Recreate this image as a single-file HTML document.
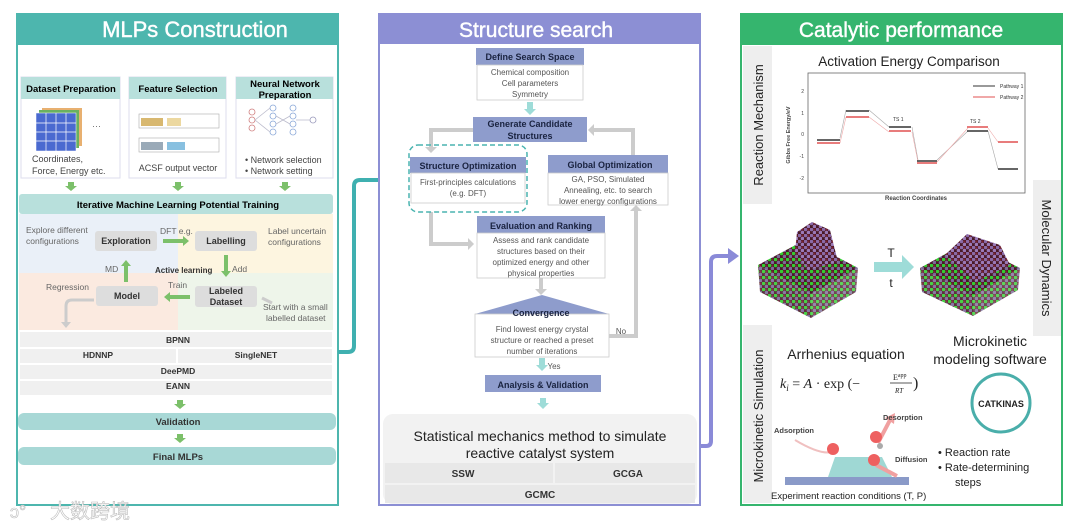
<!DOCTYPE html>
<html><head><meta charset="utf-8"><style>
html,body{margin:0;padding:0;background:#fff;}
svg{display:block;font-family:"Liberation Sans","Noto Sans CJK SC",sans-serif;}
.b{font-weight:bold;}
</style></head><body>
<svg width="1080" height="529" viewBox="0 0 1080 529" xmlns="http://www.w3.org/2000/svg">
<defs>
<pattern id="atoms" width="6" height="6" patternUnits="userSpaceOnUse">
<rect width="6" height="6" fill="#4a1a28"/>
<circle cx="1.5" cy="1.5" r="1.8" fill="#33cc33"/>
<circle cx="4.5" cy="4.5" r="1.8" fill="#7a6a98"/>
<circle cx="4.5" cy="1.5" r="1.1" fill="#7a2030"/>
</pattern>
<pattern id="atoms2" width="6" height="6" patternUnits="userSpaceOnUse">
<rect width="6" height="6" fill="#4a1a28"/>
<circle cx="1.5" cy="1.5" r="1.8" fill="#8a6aa8"/>
<circle cx="4.5" cy="4.5" r="1.8" fill="#9a7ab8"/>
<circle cx="4.5" cy="1.5" r="1.1" fill="#7a2030"/>
</pattern>
</defs>

<!-- LEFT PANEL -->
<rect x="17" y="14" width="321" height="491" fill="#fff" stroke="#4db6ae" stroke-width="2"/>
<rect x="17" y="14" width="321" height="31" fill="#4db6ae"/>
<text x="195" y="37" font-size="22" fill="#fff" text-anchor="middle" stroke="#fff" stroke-width="0.4">MLPs Construction</text>

<g font-size="9">
<rect x="21" y="77" width="99" height="101" fill="#fff" stroke="#dde" />
<rect x="21" y="77" width="99" height="22" fill="#b8e0dc"/>
<text x="71" y="92" class="b" text-anchor="middle" font-size="9.5">Dataset Preparation</text>
<g transform="translate(36,110)">
<rect x="6" y="-2" width="40" height="38" fill="#e8b070"/><rect x="3" y="0" width="40" height="38" fill="#6ab060"/><rect x="0" y="3" width="40" height="38" fill="#4a6ad0" stroke="#fff" stroke-width="0.5"/>
<path d="M10,3V41M20,3V41M30,3V41M0,13H40M0,22H40M0,31H40" stroke="#fff" stroke-width="0.7"/>
</g>
<text x="92" y="129" fill="#666">···</text>
<text x="32" y="162" fill="#444">Coordinates,</text>
<text x="32" y="174" fill="#444">Force, Energy etc.</text>

<rect x="129" y="77" width="97" height="101" fill="#fff" stroke="#dde"/>
<rect x="129" y="77" width="97" height="22" fill="#b8e0dc"/>
<text x="178" y="92" class="b" text-anchor="middle" font-size="9.5">Feature Selection</text>
<rect x="139" y="114" width="80" height="14" fill="none" stroke="#aaa" stroke-width="0.6"/>
<rect x="141" y="118" width="22" height="8" fill="#d8b870"/><rect x="167" y="118" width="14" height="8" fill="#ecd8a0"/>
<rect x="139" y="138" width="80" height="14" fill="none" stroke="#aaa" stroke-width="0.6"/>
<rect x="141" y="142" width="22" height="8" fill="#9aaab8"/><rect x="167" y="142" width="18" height="8" fill="#88c0e0"/>
<text x="178" y="171" text-anchor="middle" fill="#444">ACSF output vector</text>

<rect x="236" y="77" width="97" height="101" fill="#fff" stroke="#dde"/>
<rect x="236" y="77" width="97" height="22" fill="#b8e0dc"/>
<text x="285" y="87" class="b" text-anchor="middle" font-size="9.5">Neural Network</text>
<text x="285" y="98" class="b" text-anchor="middle" font-size="9.5">Preparation</text>
<g fill="none" stroke-width="0.8">
<circle cx="252" cy="112" r="3" stroke="#d08080"/><circle cx="252" cy="120" r="3" stroke="#d08080"/><circle cx="252" cy="128" r="3" stroke="#d08080"/>
<circle cx="273" cy="108" r="3" stroke="#8aa8d8"/><circle cx="273" cy="116" r="3" stroke="#8aa8d8"/><circle cx="273" cy="124" r="3" stroke="#8aa8d8"/><circle cx="273" cy="132" r="3" stroke="#8aa8d8"/>
<circle cx="293" cy="108" r="3" stroke="#8aa8d8"/><circle cx="293" cy="116" r="3" stroke="#8aa8d8"/><circle cx="293" cy="124" r="3" stroke="#8aa8d8"/><circle cx="293" cy="132" r="3" stroke="#8aa8d8"/>
<circle cx="313" cy="120" r="3" stroke="#99b"/>
<path d="M255,120L270,108M255,120L270,132M276,116L290,124M276,124L290,116M296,120L310,120" stroke="#bbc"/>
</g>
<text x="245" y="163" fill="#444">•  Network selection</text>
<text x="245" y="174" fill="#444">•  Network setting</text>
</g>
<g fill="#7cc06a">
<path d="M68,182h6v4h3l-6,5l-6,-5h3z"/><path d="M175,182h6v4h3l-6,5l-6,-5h3z"/><path d="M282,182h6v4h3l-6,5l-6,-5h3z"/>
<path d="M177,400h6v4h3l-6,5l-6,-5h3z"/><path d="M177,434h6v4h3l-6,5l-6,-5h3z"/>
</g>

<rect x="19" y="194" width="314" height="20" fill="#b8e0dc" rx="3"/>
<text x="178" y="208" class="b" text-anchor="middle" font-size="9.5">Iterative Machine Learning Potential Training</text>
<rect x="19" y="214" width="159" height="59" fill="#eaf0f8"/>
<rect x="178" y="214" width="155" height="59" fill="#fdf5e0"/>
<rect x="19" y="273" width="159" height="57" fill="#fbeae0"/>
<rect x="178" y="273" width="155" height="57" fill="#eef5ea"/>
<g font-size="8.5" fill="#666">
<text x="26" y="233">Explore different</text><text x="26" y="244">configurations</text>
<text x="268" y="234">Label uncertain</text><text x="268" y="245">configurations</text>
<text x="160" y="234">DFT e.g.</text>
<text x="105" y="272">MD</text>
<text x="232" y="272">Add</text>
<text x="46" y="290">Regression</text>
<text x="168" y="288">Train</text>
<text x="263" y="310">Start with a small</text><text x="266" y="321">labelled dataset</text>
</g>
<text x="155" y="273" font-size="8" class="b" fill="#333">Active learning</text>
<g fill="#ddd"><rect x="95" y="231" width="62" height="20" rx="3"/><rect x="195" y="231" width="62" height="20" rx="3"/><rect x="96" y="286" width="62" height="20" rx="3"/><rect x="195" y="286" width="62" height="21" rx="3"/></g>
<g font-size="9" class="b" text-anchor="middle" fill="#333">
<text x="126" y="244">Exploration</text><text x="226" y="244">Labelling</text><text x="127" y="299">Model</text>
<text x="226" y="294">Labeled</text><text x="226" y="305">Dataset</text></g>
<g fill="#7cc06a"><path d="M163,239h20v-3l6,5l-6,5v-3h-20z"/><path d="M124,282v-16h-3l5,-6l5,6h-3v16z"/><path d="M224,255v16h-3l5,6l5,-6h-3v-16z"/><path d="M190,295h-20v-3l-6,5l6,5v-3h20z"/></g>
<path d="M94,300H72q-6,0 -6,6V324" fill="none" stroke="#ccc" stroke-width="3"/><path d="M61,322h10l-5,6z" fill="#ccc"/>
<path d="M262,298l10,5" stroke="#ccc" stroke-width="3"/>

<rect x="19" y="330" width="314" height="68" fill="#fff"/>
<g fill="#f0f0f0"><rect x="20" y="332" width="312" height="15"/><rect x="20" y="349" width="156" height="14"/><rect x="178" y="349" width="154" height="14"/><rect x="20" y="365" width="312" height="14"/><rect x="20" y="381" width="312" height="14"/></g>
<g font-size="8.5" class="b" text-anchor="middle" fill="#333">
<text x="178" y="343">BPNN</text><text x="98" y="358">HDNNP</text><text x="256" y="358">SingleNET</text><text x="178" y="374">DeePMD</text><text x="178" y="389">EANN</text></g>
<rect x="18" y="413" width="318" height="17" rx="6" fill="#a8d8d6"/>
<text x="178" y="425" font-size="9.5" class="b" text-anchor="middle" fill="#333">Validation</text>
<rect x="18" y="447" width="318" height="18" rx="6" fill="#a8d8d6"/>
<text x="178" y="460" font-size="9.5" class="b" text-anchor="middle" fill="#333">Final MLPs</text>

<!-- connectors -->
<path d="M338,352H348q6,0 6,-6V186q0,-6 6,-6H394" fill="none" stroke="#3fb0b0" stroke-width="4"/>
<path d="M392,171l14,9l-14,9z" fill="#3fb0b0"/>
<path d="M700,446H706q5,0 5,-5V262q0,-6 6,-6H730" fill="none" stroke="#8a8ad8" stroke-width="4"/>
<path d="M728,248l11,8l-11,8z" fill="#8a8ad8"/>

<!-- MIDDLE PANEL -->
<rect x="379" y="14" width="321" height="491" fill="#fff" stroke="#8c8fd4" stroke-width="2"/>
<rect x="379" y="14" width="321" height="30" fill="#8c8fd4"/>
<text x="536" y="37" font-size="21" fill="#fff" text-anchor="middle" stroke="#fff" stroke-width="0.4">Structure search</text>
<g fill="none" stroke="#ccc" stroke-width="4">
<path d="M473,130H431V148"/><path d="M633,155V130H592"/><path d="M431,212V244H470"/><path d="M609,336H636V210"/><path d="M541,278V290"/></g>
<g fill="#ccc"><path d="M425,147h12l-6,6z"/><path d="M594,124v12l-6,-6z"/><path d="M468,238v12l6,-6z"/><path d="M630,211h12l-6,-6z"/><path d="M535,289h12l-6,6z"/></g>
<g fill="#9edcd8"><path d="M527,102h6v7h3l-6,6l-6,-6h3z"/><path d="M539,358h6v7h3l-6,6l-6,-6h3z"/><path d="M540,398h6v5h3l-6,6l-6,-6h3z"/></g>
<g fill="#8e9ccc">
<rect x="476" y="48" width="108" height="17"/>
<rect x="473" y="117" width="114" height="25"/>
<rect x="410" y="157" width="116" height="16"/>
<rect x="548" y="155" width="120" height="18"/>
<rect x="477" y="216" width="128" height="17"/>
<path d="M475,314L542,295L609,314z"/>
<rect x="485" y="375" width="116" height="17"/>
</g>
<g fill="#fff" stroke="#ccc" stroke-width="0.8">
<rect x="477" y="65" width="106" height="35"/><rect x="411" y="173" width="114" height="30"/><rect x="548" y="173" width="120" height="32"/><rect x="477" y="233" width="128" height="45"/><rect x="475" y="314" width="134" height="43"/></g>
<rect x="409" y="145" width="118" height="67" rx="9" fill="none" stroke="#4ab4b0" stroke-width="1.5" stroke-dasharray="5,3"/>
<g font-size="9" class="b" text-anchor="middle" fill="#1a2340">
<text x="530" y="60">Define Search Space</text>
<text x="530" y="127">Generate Candidate</text><text x="530" y="139">Structures</text>
<text x="468" y="169">Structure Optimization</text>
<text x="610" y="168">Global Optimization</text>
<text x="541" y="229">Evaluation and Ranking</text>
<text x="541" y="316">Convergence</text>
<text x="543" y="388">Analysis &amp; Validation</text></g>
<g font-size="8" text-anchor="middle" fill="#555">
<text x="530" y="75">Chemical composition</text><text x="530" y="86">Cell parameters</text><text x="530" y="97">Symmetry</text>
<text x="468" y="185">First-principles calculations</text><text x="468" y="196">(e.g. DFT)</text>
<text x="608" y="182">GA, PSO, Simulated</text><text x="608" y="193">Annealing, etc. to search</text><text x="608" y="204">lower energy configurations</text>
<text x="541" y="243">Assess and rank candidate</text><text x="541" y="254">structures based on their</text><text x="541" y="265">optimized energy and other</text><text x="541" y="276">physical properties</text>
<text x="542" y="332">Find lowest energy crystal</text><text x="542" y="343">structure or reached a preset</text><text x="542" y="354">number of iterations</text>
<text x="621" y="334">No</text><text x="554" y="369">Yes</text></g>
<rect x="383" y="414" width="314" height="90" rx="10" fill="#f2f2f2"/>
<rect x="385" y="463" width="168" height="20" fill="#e8e8e8"/><rect x="555" y="463" width="140" height="20" fill="#e8e8e8"/><rect x="385" y="485" width="310" height="18" fill="#e8e8e8"/>
<text x="540" y="441" font-size="14" text-anchor="middle" fill="#222">Statistical mechanics method to simulate</text>
<text x="540" y="458" font-size="14" text-anchor="middle" fill="#222">reactive catalyst system</text>
<g font-size="10" class="b" text-anchor="middle" fill="#333"><text x="463" y="477">SSW</text><text x="628" y="477">GCGA</text><text x="540" y="498">GCMC</text></g>

<!-- RIGHT PANEL -->
<rect x="741" y="14" width="321" height="491" fill="#fff" stroke="#35b56e" stroke-width="2"/>
<rect x="741" y="14" width="321" height="31" fill="#35b56e"/>
<text x="901" y="37" font-size="21" fill="#fff" text-anchor="middle" stroke="#fff" stroke-width="0.4">Catalytic performance</text>
<rect x="743" y="46" width="29" height="158" fill="#eee"/>
<text transform="translate(763,125) rotate(-90)" font-size="13" text-anchor="middle" fill="#222">Reaction Mechanism</text>
<rect x="1033" y="180" width="28" height="156" fill="#eee"/>
<text transform="translate(1042,258) rotate(90)" font-size="13" text-anchor="middle" fill="#222">Molecular Dynamics</text>
<rect x="743" y="325" width="29" height="178" fill="#eee"/>
<text transform="translate(763,416) rotate(-90)" font-size="13" text-anchor="middle" fill="#222">Microkinetic Simulation</text>

<text x="909" y="66" font-size="13.5" text-anchor="middle" fill="#222">Activation Energy Comparison</text>
<rect x="808" y="73" width="217" height="120" fill="#fff" stroke="#666" stroke-width="0.8"/>
<g font-size="5" fill="#444" text-anchor="end"><text x="804" y="93">2</text><text x="804" y="115">1</text><text x="804" y="136">0</text><text x="804" y="158">-1</text><text x="804" y="180">-2</text></g>
<text transform="translate(790,135) rotate(-90)" font-size="5.5" class="b" text-anchor="middle" fill="#444">Gibbs Free Energy/eV</text>
<text x="916" y="200" font-size="6" class="b" text-anchor="middle" fill="#444">Reaction Coordinates</text>
<g fill="none" stroke-width="0.6" stroke="#aaa">
<path d="M840,138L846,110M869,110L889,127M912,127L918,160M937,160L968,131M988,131L998,169"/>
<path d="M840,143L846,117M869,117L889,132M912,132L918,162M937,162L968,128M988,128L998,142" stroke="#eaa"/></g>
<g stroke-width="1.5">
<path d="M817,140H840M846,111H869M889,127H911M917,161H937M967,131H988M998,169H1018" stroke="#333"/>
<path d="M817,143H840M846,117H869M889,131H911M917,163H937M967,127H988M998,142H1018" stroke="#e05050"/></g>
<g font-size="5" fill="#333"><text x="893" y="121">TS 1</text><text x="970" y="123">TS 2</text>
<text x="1000" y="88">Pathway 1</text><text x="1000" y="99">Pathway 2</text></g>
<path d="M973,86h22" stroke="#333"/><path d="M973,97h22" stroke="#e05050"/>

<!-- cubes (isometric) -->
<path d="M758,265L805,240L858,268L811,294Z" fill="url(#atoms)"/>
<path d="M758,265L811,294L811,318L760,292Z" fill="url(#atoms)" opacity="0.9"/>
<path d="M811,294L858,268L856,292L811,318Z" fill="url(#atoms)" opacity="0.8"/>
<path d="M797,232L812,222L830,230L838,262L808,270L795,252Z" fill="url(#atoms2)"/>
<path d="M920,268L967,242L1020,268L973,296Z" fill="url(#atoms)"/>
<path d="M920,268L973,296L973,316L922,292Z" fill="url(#atoms)" opacity="0.9"/>
<path d="M973,296L1020,268L1018,290L973,316Z" fill="url(#atoms)" opacity="0.8"/>
<path d="M945,255L967,234L1000,245L1010,265L975,282Z" fill="url(#atoms2)"/>
<path d="M874,262h28v-7l12,12l-12,12v-7h-28z" fill="#9edcd8"/>
<text x="891" y="257" font-size="12" text-anchor="middle" fill="#222">T</text>
<text x="891" y="287" font-size="12" text-anchor="middle" fill="#222">t</text>

<text x="846" y="359" font-size="14" text-anchor="middle" fill="#222">Arrhenius equation</text>
<text x="780" y="388" font-size="14" font-family="Liberation Serif,serif" fill="#222"><tspan font-style="italic">k</tspan><tspan font-size="9" font-style="italic" dy="3">i</tspan><tspan dy="-3"> = </tspan><tspan font-style="italic">A</tspan> · exp (−</text>
<text x="893" y="380" font-size="8" font-family="Liberation Serif,serif" fill="#222">E<tspan font-size="6" dy="-3">app</tspan></text>
<path d="M890,383h22" stroke="#222" stroke-width="0.7"/>
<text x="895" y="393" font-size="7" font-style="italic" font-family="Liberation Serif,serif" fill="#222">RT</text>
<text x="913" y="388" font-size="16" font-family="Liberation Serif,serif" fill="#222">)</text>
<text x="990" y="346" font-size="14" text-anchor="middle" fill="#222">Microkinetic</text>
<text x="990" y="364" font-size="14" text-anchor="middle" fill="#222">modeling software</text>
<circle cx="1001" cy="403" r="29" fill="#fff" stroke="#4aaeaa" stroke-width="3"/>
<text x="1001" y="407" font-size="9" class="b" text-anchor="middle" fill="#222">CATKINAS</text>
<g font-size="11" fill="#222"><text x="938" y="456">•   Reaction rate</text><text x="938" y="471">•   Rate-determining</text><text x="955" y="486">steps</text></g>
<rect x="785" y="477" width="124" height="8" fill="#8a9ac8"/>
<path d="M828,477L835,457H882L892,477Z" fill="#9fd8d4"/>
<path d="M795,440Q820,455 832,452" fill="none" stroke="#f0c0c0" stroke-width="2"/>
<path d="M878,443L890,420" stroke="#f0a0a0" stroke-width="4"/><path d="M885,418l10,-5l-1,11z" fill="#f0a0a0"/>
<path d="M876,465L897,476" stroke="#f0a0a0" stroke-width="4"/>
<circle cx="833" cy="449" r="6" fill="#ee6060"/><circle cx="876" cy="437" r="6" fill="#ee6060"/><circle cx="874" cy="460" r="6" fill="#ee6060"/>
<circle cx="880" cy="446" r="3" fill="#aaa"/>
<g font-size="7.5" class="b" fill="#444"><text x="774" y="433">Adsorption</text><text x="883" y="420">Desorption</text><text x="895" y="462">Diffusion</text></g>
<text x="771" y="499" font-size="9.5" fill="#222">Experiment reaction conditions (T, P)</text>

<!-- watermark -->
<text x="50" y="518" font-size="20" fill="#fff" stroke="#bbb" stroke-width="0.6">大数跨境</text>
<text x="10" y="518" font-size="18" fill="#fff" stroke="#bbb" stroke-width="0.6">ↄ°</text>
</svg>
</body></html>
